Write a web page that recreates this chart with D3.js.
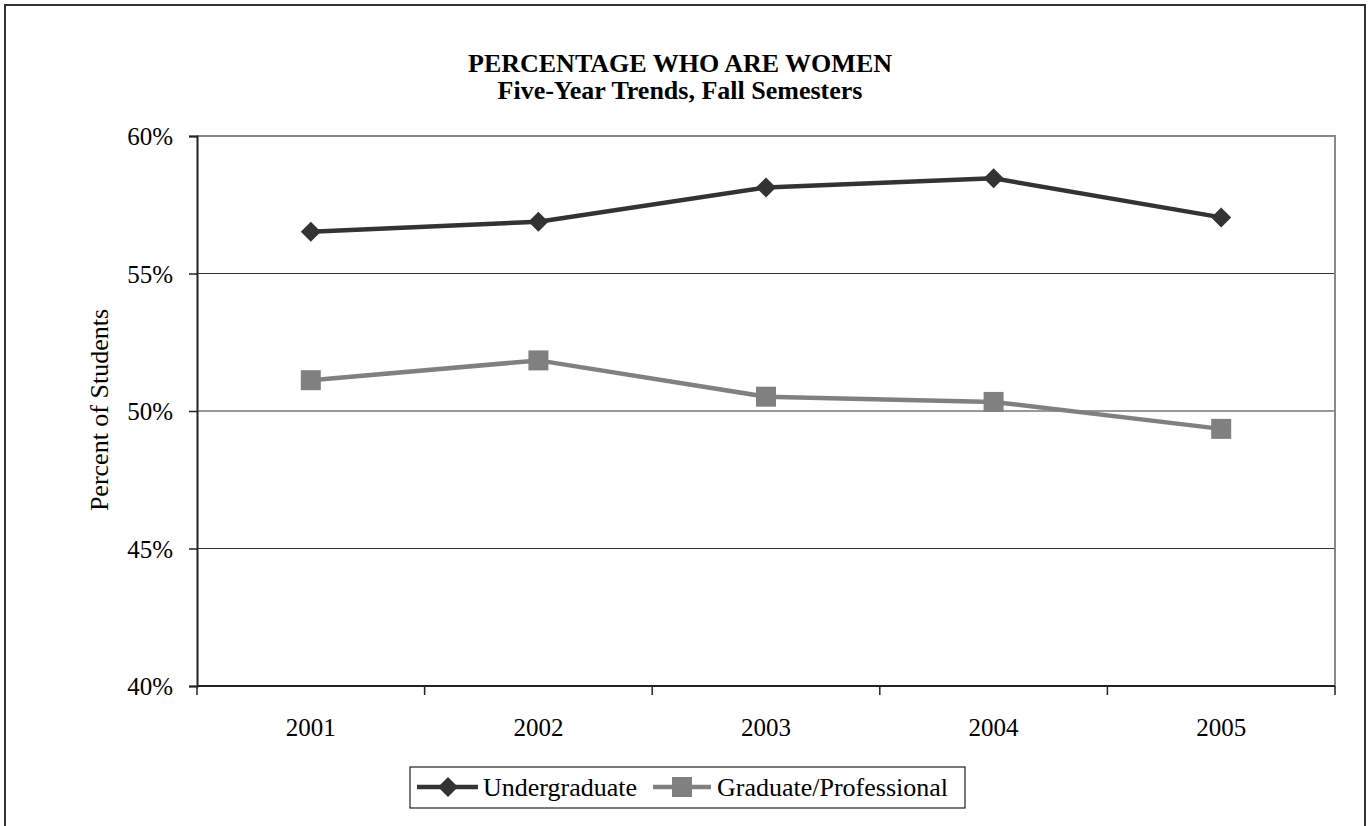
<!DOCTYPE html>
<html>
<head>
<meta charset="utf-8">
<script src="https://cdn.jsdelivr.net/npm/d3@7"></script>
<style>
  body { margin: 0; background: #fff; }
  svg text { font-family: "Liberation Serif", "Times New Roman", serif; fill: #000; }
</style>
</head>
<body>
<div id="chart"></div>
<script>
// data
var years = ["2001", "2002", "2003", "2004", "2005"];
var undergrad = [56.52, 56.88, 58.13, 58.46, 57.04];
var graduate = [51.12, 51.84, 50.52, 50.33, 49.35];
var yTicks = [40, 45, 50, 55, 60];
var seriesNames = ["Undergraduate", "Graduate/Professional"];

var svgWidth = 1370;
var svgHeight = 826;

var margin = { top: 136, right: 35, bottom: 140, left: 197 };
var chartWidth = svgWidth - margin.left - margin.right;
var chartHeight = svgHeight - margin.top - margin.bottom;

var svg = d3.select("#chart")
  .append("svg")
  .attr("width", svgWidth)
  .attr("height", svgHeight);

// outer frame
svg.append("rect")
  .attr("x", 5).attr("y", 5)
  .attr("width", 1360).attr("height", 840)
  .attr("fill", "none")
  .attr("stroke", "#333")
  .attr("stroke-width", 2);

// titles
svg.append("text")
  .attr("x", 680).attr("y", 72)
  .attr("text-anchor", "middle")
  .style("font-size", "26px").style("font-weight", "bold")
  .text("PERCENTAGE WHO ARE WOMEN");
svg.append("text")
  .attr("x", 680).attr("y", 99)
  .attr("text-anchor", "middle")
  .style("font-size", "26px").style("font-weight", "bold")
  .text("Five-Year Trends, Fall Semesters");

var chartGroup = svg.append("g")
  .attr("transform", `translate(${margin.left}, ${margin.top})`);

var xBandScale = d3.scaleBand()
  .domain(years)
  .range([0, chartWidth])
  .padding(0);

var yLinearScale = d3.scaleLinear()
  .domain([40, 60])
  .range([chartHeight, 0]);

var cx = d => xBandScale(d) + xBandScale.bandwidth() / 2;

// gridlines
chartGroup.selectAll(".grid")
  .data(yTicks.filter(t => t > 40 && t < 60))
  .enter()
  .append("line")
  .attr("x1", 0).attr("x2", chartWidth)
  .attr("y1", d => yLinearScale(d)).attr("y2", d => yLinearScale(d))
  .attr("stroke", "#333")
  .attr("stroke-width", 1.2);

// top and right border
chartGroup.append("path")
  .attr("d", `M0,${yLinearScale(60)}H${chartWidth}V${chartHeight}`)
  .attr("fill", "none")
  .attr("stroke", "#888")
  .attr("stroke-width", 2);

// y axis
var yAxis = d3.axisLeft(yLinearScale)
  .tickValues(yTicks)
  .tickFormat(d => d + "%")
  .tickSize(8)
  .tickPadding(16);

var yg = chartGroup.append("g").call(yAxis);
yg.select(".domain").attr("stroke", "#222").attr("stroke-width", 2);
yg.selectAll(".tick line").attr("stroke", "#222").attr("stroke-width", 1.5);
yg.selectAll(".tick text")
  .style("font-size", "25px")
  .style("font-family", "Liberation Serif, serif")
  .attr("dy", "0.35em");

// x axis: ticks at band boundaries, labels at band centers
var xg = chartGroup.append("g")
  .attr("transform", `translate(0, ${chartHeight})`);
xg.append("line")
  .attr("x1", 0).attr("x2", chartWidth)
  .attr("stroke", "#222").attr("stroke-width", 2);
xg.selectAll(".xtick")
  .data(years.map(d => xBandScale(d)).concat([chartWidth]))
  .enter()
  .append("line")
  .attr("x1", d => d).attr("x2", d => d)
  .attr("y1", 0).attr("y2", 9)
  .attr("stroke", "#222").attr("stroke-width", 1.5);
xg.selectAll(".xlabel")
  .data(years)
  .enter()
  .append("text")
  .attr("x", d => cx(d))
  .attr("y", 50)
  .attr("text-anchor", "middle")
  .style("font-size", "25px")
  .text(d => d);

// y axis title
svg.append("text")
  .attr("transform", "translate(108, 410) rotate(-90)")
  .attr("text-anchor", "middle")
  .style("font-size", "26px")
  .text("Percent of Students");

// lines
var line = d3.line()
  .x((d, i) => cx(years[i]))
  .y(d => yLinearScale(d));

chartGroup.append("path")
  .datum(graduate)
  .attr("d", line)
  .attr("fill", "none")
  .attr("stroke", "#808080")
  .attr("stroke-width", 4.5);

chartGroup.selectAll(".sq")
  .data(graduate)
  .enter()
  .append("path")
  .attr("d", d3.symbol(d3.symbolSquare, 400))
  .attr("transform", (d, i) => `translate(${cx(years[i])}, ${yLinearScale(d)})`)
  .attr("fill", "#808080");

chartGroup.append("path")
  .datum(undergrad)
  .attr("d", line)
  .attr("fill", "none")
  .attr("stroke", "#333")
  .attr("stroke-width", 4.5);

chartGroup.selectAll(".dm")
  .data(undergrad)
  .enter()
  .append("path")
  .attr("d", d3.symbol(d3.symbolSquare, 200))
  .attr("transform", (d, i) => `translate(${cx(years[i])}, ${yLinearScale(d)}) rotate(45)`)
  .attr("fill", "#333");

// legend
var legend = svg.append("g");
legend.append("rect")
  .attr("x", 410).attr("y", 767)
  .attr("width", 555).attr("height", 41)
  .attr("fill", "#fff")
  .attr("stroke", "#222")
  .attr("stroke-width", 1.2);

legend.append("line")
  .attr("x1", 417).attr("x2", 478)
  .attr("y1", 787).attr("y2", 787)
  .attr("stroke", "#333").attr("stroke-width", 4.5);
legend.append("path")
  .attr("d", d3.symbol(d3.symbolSquare, 200))
  .attr("transform", "translate(448, 787) rotate(45)")
  .attr("fill", "#333");
legend.append("text")
  .attr("x", 483).attr("y", 796)
  .style("font-size", "26px")
  .text(seriesNames[0]);

legend.append("line")
  .attr("x1", 653).attr("x2", 711)
  .attr("y1", 787).attr("y2", 787)
  .attr("stroke", "#808080").attr("stroke-width", 4.5);
legend.append("path")
  .attr("d", d3.symbol(d3.symbolSquare, 400))
  .attr("transform", "translate(682, 787)")
  .attr("fill", "#808080");
legend.append("text")
  .attr("x", 717).attr("y", 796)
  .style("font-size", "26px")
  .text(seriesNames[1]);
</script>
</body>
</html>
